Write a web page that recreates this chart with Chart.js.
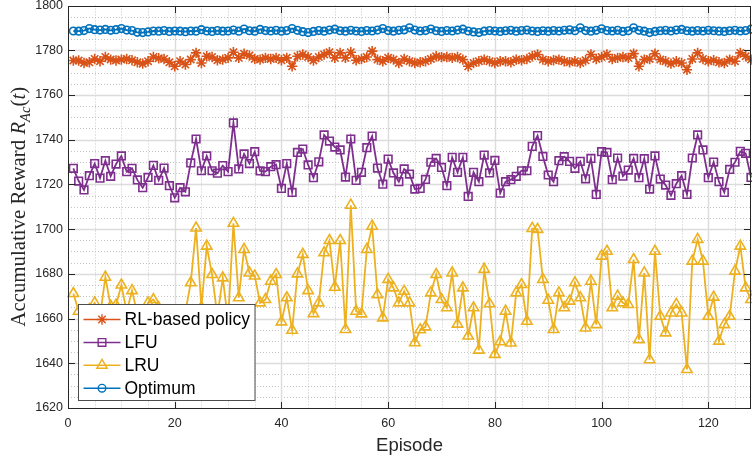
<!DOCTYPE html>
<html>
<head>
<meta charset="utf-8">
<script src="https://cdn.jsdelivr.net/npm/chart.js@4.4.1/dist/chart.umd.min.js"></script>
<style>
  html, body { margin: 0; padding: 0; background: #ffffff; }
  #wrap { width: 752px; height: 459px; }
</style>
</head>
<body>
<div id="wrap"><canvas id="chart" width="752" height="459"></canvas></div>
<script>
// Accumulative reward per episode for each caching policy
const rlPolicy = [
  1775.4, 1775.4, 1774.3, 1774.6, 1776.1, 1775.1, 1777.0, 1775.8, 1775.4, 1775.8,
  1776.1, 1775.5, 1774.6, 1774.0, 1775.1, 1777.0, 1776.4, 1776.1, 1774.6, 1772.8,
  1775.1, 1773.6, 1775.8, 1778.8, 1774.3, 1777.3, 1777.0, 1775.5, 1775.8, 1776.6,
  1779.1, 1776.6, 1778.4, 1777.6, 1776.1, 1775.8, 1776.6, 1776.1, 1776.6, 1775.5,
  1776.6, 1772.8, 1777.3, 1778.1, 1777.0, 1775.4, 1777.0, 1778.1, 1779.1, 1776.6,
  1778.8, 1776.6, 1779.1, 1775.5, 1776.1, 1777.0, 1779.6, 1775.8, 1775.1, 1776.6,
  1775.8, 1774.3, 1776.1, 1775.1, 1774.3, 1774.6, 1775.1, 1776.1, 1777.3, 1776.9,
  1777.0, 1776.6, 1777.0, 1775.8, 1772.8, 1774.3, 1775.1, 1775.8, 1775.1, 1774.3,
  1775.1, 1775.1, 1774.6, 1775.8, 1775.5, 1776.1, 1777.3, 1778.1, 1775.8, 1775.1,
  1775.5, 1775.8, 1775.1, 1774.6, 1775.1, 1774.3, 1775.5, 1778.1, 1776.1, 1777.0,
  1778.1, 1776.1, 1776.6, 1777.0, 1776.6, 1778.5, 1772.8, 1775.8, 1776.1, 1778.4,
  1775.8, 1775.1, 1774.0, 1775.1, 1774.3, 1771.3, 1776.1, 1778.8, 1776.1, 1775.1,
  1775.5, 1774.6, 1774.3, 1775.8, 1775.1, 1778.8, 1777.3, 1775.8
];

const lfu = [
  1727.2, 1721.5, 1717.5, 1723.9, 1729.3, 1722.8, 1730.6, 1723.6, 1729.1, 1732.7,
  1725.7, 1727.2, 1722.0, 1718.5, 1723.1, 1728.5, 1721.8, 1727.3, 1719.4, 1714.0,
  1718.5, 1716.7, 1729.6, 1740.3, 1726.1, 1732.7, 1726.1, 1725.0, 1728.4, 1725.7,
  1747.5, 1726.9, 1733.6, 1729.3, 1734.6, 1726.0, 1725.7, 1727.9, 1728.8, 1718.2,
  1729.3, 1716.4, 1734.3, 1735.8, 1728.7, 1723.0, 1730.1, 1742.1, 1739.4, 1736.7,
  1735.4, 1723.3, 1740.3, 1721.8, 1725.4, 1736.4, 1741.6, 1727.3, 1720.1, 1731.3,
  1725.1, 1721.2, 1726.9, 1724.6, 1717.9, 1718.2, 1722.2, 1729.9, 1731.6, 1727.6,
  1719.4, 1732.1, 1725.4, 1732.1, 1714.6, 1725.4, 1721.2, 1733.1, 1725.1, 1730.7,
  1716.1, 1721.2, 1722.1, 1723.6, 1726.1, 1726.1, 1737.0, 1741.8, 1732.5, 1724.2,
  1721.2, 1730.6, 1732.4, 1730.3, 1727.2, 1730.3, 1722.5, 1731.6, 1715.5, 1734.6,
  1734.3, 1722.1, 1731.8, 1723.7, 1726.4, 1731.6, 1723.0, 1731.5, 1717.9, 1732.7,
  1722.4, 1719.7, 1715.1, 1720.3, 1723.9, 1715.5, 1731.8, 1742.1, 1735.4, 1723.0,
  1730.0, 1721.2, 1716.4, 1726.7, 1729.9, 1734.8, 1733.9, 1723.1
];

const lru = [
  1671.2, 1663.3, 1660.0, 1664.0, 1667.0, 1661.0, 1678.5, 1665.5, 1666.0, 1675.0,
  1663.0, 1672.5, 1662.0, 1659.0, 1667.0, 1668.5, 1664.8, 1658.0, 1662.0, 1660.0,
  1656.0, 1663.0, 1676.0, 1700.5, 1665.0, 1692.4, 1679.7, 1661.0, 1678.2, 1659.0,
  1702.6, 1669.3, 1690.9, 1680.4, 1679.0, 1667.0, 1668.5, 1676.7, 1679.7, 1658.5,
  1669.3, 1654.8, 1680.0, 1688.7, 1672.5, 1662.2, 1667.0, 1689.4, 1694.9, 1674.0,
  1694.9, 1655.1, 1710.7, 1663.3, 1662.1, 1690.9, 1701.3, 1670.7, 1660.3, 1677.5,
  1673.7, 1667.0, 1672.2, 1667.0, 1649.2, 1655.0, 1656.3, 1671.5, 1679.7, 1668.5,
  1664.8, 1680.4, 1657.5, 1673.7, 1652.2, 1664.8, 1645.9, 1682.0, 1666.6, 1644.0,
  1649.6, 1663.3, 1649.1, 1671.5, 1675.2, 1658.8, 1700.3, 1699.9, 1677.5, 1668.2,
  1655.1, 1671.5, 1664.8, 1667.8, 1676.0, 1669.3, 1655.8, 1676.7, 1657.3, 1687.9,
  1690.1, 1664.8, 1670.0, 1667.0, 1666.3, 1686.4, 1650.6, 1680.4, 1641.6, 1690.1,
  1661.0, 1653.6, 1662.5, 1666.3, 1662.5, 1637.2, 1685.7, 1695.4, 1685.7, 1661.0,
  1669.6, 1649.9, 1657.3, 1661.0, 1681.2, 1692.4, 1673.7, 1668.5
];

const optimum = [
  1788.6, 1788.5, 1788.8, 1789.7, 1789.2, 1789.0, 1789.3, 1788.9, 1789.2, 1789.7,
  1789.0, 1788.8, 1788.0, 1787.9, 1788.2, 1788.6, 1788.5, 1788.8, 1788.4, 1788.6,
  1788.5, 1788.3, 1788.6, 1788.5, 1789.2, 1788.6, 1788.4, 1788.8, 1788.5, 1788.6,
  1789.0, 1788.5, 1789.5, 1788.7, 1788.5, 1789.3, 1788.8, 1788.6, 1788.9, 1788.5,
  1788.8, 1789.7, 1788.9, 1788.3, 1787.9, 1788.4, 1788.8, 1788.5, 1789.0, 1789.4,
  1788.7, 1788.5, 1788.9, 1788.6, 1788.4, 1788.8, 1788.6, 1789.0, 1789.7, 1788.8,
  1788.5, 1788.9, 1789.1, 1790.0, 1789.0, 1788.6, 1788.8, 1789.5, 1788.7, 1788.4,
  1788.8, 1788.6, 1789.0, 1789.4, 1788.6, 1788.2, 1787.9, 1788.5, 1788.8, 1788.6,
  1788.4, 1788.7, 1788.9, 1788.5, 1788.8, 1789.0, 1788.6, 1788.4, 1788.7, 1788.5,
  1788.8, 1788.6, 1788.9, 1789.1, 1788.7, 1790.0, 1788.8, 1788.5, 1788.9, 1789.6,
  1788.8, 1788.6, 1788.9, 1788.4, 1788.7, 1790.0, 1788.9, 1788.5, 1787.9, 1788.4,
  1788.7, 1788.9, 1788.6, 1789.0, 1789.3, 1788.7, 1788.5, 1788.8, 1788.6, 1788.9,
  1788.7, 1788.5, 1788.4, 1788.7, 1788.9, 1788.6, 1788.8, 1789.4
];

const seriesNames = ['RL-based policy', 'LFU', 'LRU', 'Optimum'];
const xTicks = [0, 20, 40, 60, 80, 100, 120];
const yTicks = [1620, 1640, 1660, 1680, 1700, 1720, 1740, 1760, 1780, 1800];
const xRange = [0, 128];
const yRange = [1620, 1800];

// episode numbers start at 1
const episodes = rlPolicy.map((_, i) => i + 1);
const toPoints = arr => arr.map((v, i) => ({ x: episodes[i], y: v }));

const INK = '#262626';
const SANS = '"Liberation Sans", Arial, Helvetica, sans-serif';

const styles = [
  { color: '#D95319', pointStyle: 'star', radius: 5.2 },
  { color: '#7E2F8E', pointStyle: 'rect', radius: 5.4 },
  { color: '#EDB120', pointStyle: 'triangle', radius: 6.0 },
  { color: '#0072BD', pointStyle: 'circle', radius: 3.8 }
];
const seriesData = [rlPolicy, lfu, lru, optimum];

const datasets = seriesData.map((arr, i) => ({
  label: seriesNames[i],
  data: toPoints(arr),
  borderColor: styles[i].color,
  backgroundColor: 'rgba(0,0,0,0)',
  borderWidth: 1.8,
  pointStyle: styles[i].pointStyle,
  pointRadius: styles[i].radius,
  pointBorderWidth: 1.6,
  pointBorderColor: styles[i].color,
  pointBackgroundColor: 'rgba(0,0,0,0)',
  pointHoverRadius: styles[i].radius,
  tension: 0,
  clip: false,
  order: seriesData.length - i
}));

// grid: solid major lines and dotted minor lines every 5 units
const gridPlugin = {
  id: 'matlabGrid',
  beforeDatasetsDraw(chart) {
    const { ctx, chartArea: a, scales } = chart;
    const xs = scales.x, ys = scales.y;
    ctx.save();
    ctx.lineWidth = 1;
    ctx.strokeStyle = '#c4c4c4';
    ctx.setLineDash([1, 2]);
    for (let v = xRange[0] + 5; v < xRange[1]; v += 5) {
      if (v % 20 === 0) continue;
      const px = Math.round(xs.getPixelForValue(v)) + 0.5;
      ctx.beginPath(); ctx.moveTo(px, a.top); ctx.lineTo(px, a.bottom); ctx.stroke();
    }
    for (let v = yRange[0] + 5; v < yRange[1]; v += 5) {
      if (v % 20 === 0) continue;
      const py = Math.round(ys.getPixelForValue(v)) + 0.5;
      ctx.beginPath(); ctx.moveTo(a.left, py); ctx.lineTo(a.right, py); ctx.stroke();
    }
    ctx.setLineDash([]);
    ctx.strokeStyle = '#dcdcdc';
    ctx.lineWidth = 1.4;
    xTicks.forEach(v => {
      if (v <= xRange[0] || v >= xRange[1]) return;
      const px = Math.round(xs.getPixelForValue(v)) + 0.5;
      ctx.beginPath(); ctx.moveTo(px, a.top); ctx.lineTo(px, a.bottom); ctx.stroke();
    });
    yTicks.forEach(v => {
      if (v <= yRange[0] || v >= yRange[1]) return;
      const py = Math.round(ys.getPixelForValue(v)) + 0.5;
      ctx.beginPath(); ctx.moveTo(a.left, py); ctx.lineTo(a.right, py); ctx.stroke();
    });
    ctx.restore();
  }
};

// axes box with inward tick marks on all four sides
const boxPlugin = {
  id: 'matlabBox',
  afterDatasetsDraw(chart) {
    const { ctx, chartArea: a, scales } = chart;
    const L = Math.round(a.left) + 0.5, R = Math.round(a.right) - 0.5;
    const T = Math.round(a.top) + 0.5, B = Math.round(a.bottom) + 0.5;
    const tick = 6.5;
    ctx.save();
    ctx.strokeStyle = INK;
    ctx.lineWidth = 1;
    ctx.strokeRect(L, T, R - L, B - T);
    ctx.beginPath();
    xTicks.forEach(v => {
      const px = Math.round(scales.x.getPixelForValue(v)) + 0.5;
      ctx.moveTo(px, B); ctx.lineTo(px, B - tick);
      ctx.moveTo(px, T); ctx.lineTo(px, T + tick);
    });
    yTicks.forEach(v => {
      const py = Math.round(scales.y.getPixelForValue(v)) + 0.5;
      ctx.moveTo(L, py); ctx.lineTo(L + tick, py);
      ctx.moveTo(R, py); ctx.lineTo(R - tick, py);
    });
    ctx.stroke();
    ctx.restore();
  }
};

// legend box in the lower-left corner of the plot area
const legendPlugin = {
  id: 'insetLegend',
  afterDatasetsDraw(chart) {
    const { ctx, chartArea: a } = chart;
    const x0 = Math.round(a.left) + 10.5, y0 = 304.5;
    const w = 176.5, h = 96;
    ctx.save();
    ctx.fillStyle = '#ffffff';
    ctx.fillRect(x0, y0, w, h);
    ctx.strokeStyle = '#4d4d4d';
    ctx.lineWidth = 1;
    ctx.strokeRect(x0, y0, w, h);
    ctx.font = '17.5px ' + SANS;
    ctx.textBaseline = 'middle';
    ctx.textAlign = 'left';
    seriesNames.forEach((name, i) => {
      const cy = y0 + 15 + i * 22.9;
      const st = styles[i];
      ctx.strokeStyle = st.color;
      ctx.lineWidth = 1.5;
      ctx.beginPath(); ctx.moveTo(x0 + 5, cy); ctx.lineTo(x0 + 42, cy); ctx.stroke();
      ctx.fillStyle = 'rgba(0,0,0,0)';
      ctx.lineWidth = 1.4;
      Chart.helpers.drawPoint(ctx, {
        pointStyle: st.pointStyle, rotation: 0, radius: st.radius, borderWidth: 1.4
      }, x0 + 23.5, cy);
      ctx.fillStyle = '#000000';
      ctx.fillText(name, x0 + 46, cy + 1);
    });
    ctx.restore();
  }
};

// rotated y-axis title with italic symbol and subscript
const yTitlePlugin = {
  id: 'yTitle',
  afterDraw(chart) {
    const { ctx, chartArea: a } = chart;
    const serif = '"Liberation Serif", "Times New Roman", serif';
    const targetLength = 240;
    const build = size => [
      { t: 'Accumulative Reward ', f: `${size}px ${serif}`, dy: 0 },
      { t: 'R', f: `italic ${size}px ${serif}`, dy: 0 },
      { t: 'Ac', f: `italic ${size * 0.7}px ${serif}`, dy: size * 0.22 },
      { t: '(', f: `${size}px ${serif}`, dy: 0 },
      { t: 't', f: `italic ${size}px ${serif}`, dy: 0 },
      { t: ')', f: `${size}px ${serif}`, dy: 0 }
    ];
    const measure = parts => parts.reduce((s, p) => { ctx.font = p.f; p.w = ctx.measureText(p.t).width; return s + p.w; }, 0);
    ctx.save();
    let parts = build(20);
    const size = 20 * targetLength / measure(parts);
    parts = build(size);
    const total = measure(parts);
    const cy = (a.top + a.bottom) / 2;
    ctx.translate(25, cy);
    ctx.rotate(-Math.PI / 2);
    ctx.fillStyle = INK;
    ctx.textBaseline = 'alphabetic';
    ctx.textAlign = 'left';
    let x = -total / 2;
    parts.forEach(p => {
      ctx.font = p.f;
      ctx.fillText(p.t, x, p.dy);
      x += p.w;
    });
    ctx.restore();
  }
};

new Chart(document.getElementById('chart'), {
  type: 'line',
  data: { datasets },
  options: {
    responsive: false,
    devicePixelRatio: 1,
    animation: false,
    events: [],
    layout: { autoPadding: false, padding: { left: 0, right: 1, top: 5.5, bottom: 0 } },
    plugins: { legend: { display: false }, tooltip: { enabled: false } },
    scales: {
      x: {
        type: 'linear',
        min: xRange[0], max: xRange[1],
        afterBuildTicks: s => { s.ticks = xTicks.map(v => ({ value: v })); },
        afterFit: s => { s.height = 51; s.paddingLeft = 0; s.paddingRight = 0; },
        grid: { display: true, drawOnChartArea: false, drawTicks: false },
        border: { display: false },
        ticks: { padding: 8, color: INK, font: { family: SANS, size: 12.5 }, maxRotation: 0, autoSkip: false, callback: v => String(v) },
        title: { display: true, text: 'Episode', color: INK, font: { family: SANS, size: 18.5 }, padding: { top: 0, bottom: 2 } }
      },
      y: {
        type: 'linear',
        min: yRange[0], max: yRange[1],
        afterBuildTicks: s => { s.ticks = yTicks.map(v => ({ value: v })); },
        afterFit: s => { s.width = 68; s.paddingTop = 0; s.paddingBottom = 0; },
        grid: { display: true, drawOnChartArea: false, drawTicks: false },
        border: { display: false },
        ticks: { padding: 5, color: INK, font: { family: SANS, size: 12.5 }, autoSkip: false, callback: v => String(v) }
      }
    }
  },
  plugins: [gridPlugin, boxPlugin, legendPlugin, yTitlePlugin]
});
</script>
</body>
</html>
